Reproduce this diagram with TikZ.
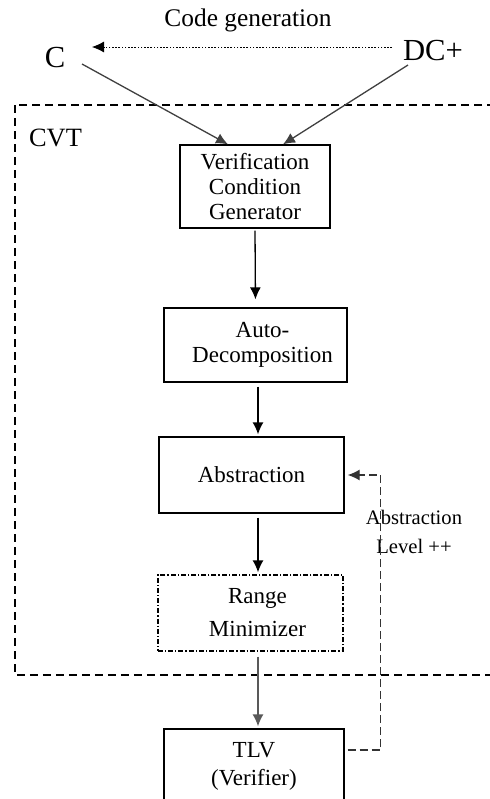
\documentclass[tikz,border=0pt]{standalone}
\usepackage{fontspec}
\setmainfont{Liberation Serif}
\usepackage{tikz}
\usetikzlibrary{arrows.meta}

\begin{document}
\begin{tikzpicture}[x=0.5pt,y=-0.5pt,
box/.style={draw,line width=0.65pt,align=center,inner sep=0pt,font=\fontsize{11.5}{12.5}\selectfont},
flow/.style={-{Latex[length=6pt,width=5.5pt]},line width=0.65pt},
back/.style={-{Latex[length=6pt,width=5.5pt]},line width=0.65pt,dash pattern=on 4pt off 2pt,black!80},
cvt/.style={line width=1pt,dash pattern=on 4pt off 2.5pt},
lbl/.style={inner sep=0pt,align=center}]
\useasboundingbox (0,0) rectangle (490,799);
\draw[cvt](15,105) rectangle (530,675);
\node[lbl,font=\fontsize{13.2}{15}\selectfont] (cvtname) at (55.5,138) {CVT};
\node[lbl,font=\fontsize{12.7}{15}\selectfont] (cg) at (248,20) {Code generation};
\node[lbl,font=\fontsize{15.3}{17}\selectfont] (c) at (55,58) {C};
\node[lbl,font=\fontsize{15.3}{17}\selectfont] (dcp) at (433,51) {DC+};
\node[box,minimum width=75pt,minimum height=41.5pt] (vcg) at (255,186.5) {Verification\\Condition\\Generator};
\node[box,minimum width=91.5pt,minimum height=37pt] (adc) at (255.5,345) {\hspace*{7pt}Auto-\\\hspace*{7pt}Decomposition};
\node[box,minimum width=92.5pt,minimum height=38pt] (abs) at (251.5,475) {Abstraction};
\node[box,minimum width=92.5pt,minimum height=38pt,dash pattern=on 2.5pt off 1pt on 0.6pt off 1pt,
  font=\fontsize{11.5}{16.5}\selectfont] (rng) at (250.5,613) {\hspace*{7pt}Range\\\hspace*{7pt}Minimizer};
\node[box,minimum width=90pt,minimum height=37pt,font=\fontsize{11.5}{14}\selectfont] (tlv) at (254,766) {TLV\\(Verifier)};
\node[lbl,font=\fontsize{10.3}{14.5}\selectfont] (lvl) at (414,532) {Abstraction\\Level ++};
\coordinate (col) at (258,0);
\draw[flow,line width=0.4pt,dash pattern=on 0.8pt off 0.8pt] ([shift={(-41,-4)}]dcp.center) -- ([shift={(37,-11)}]c.center);
\draw[flow,black!75] ([shift={(27,6)}]c.center) -- ([xshift=-13.5pt]vcg.north);
\draw[flow,black!75] ([shift={(-25,14)}]dcp.center) -- ([xshift=14pt]vcg.north);
\draw[flow,shorten <=1pt,shorten >=4pt] (vcg.south) -- (adc.north);
\draw[flow,shorten <=2pt,shorten >=1pt] (adc.south -| col) -- (abs.north -| col);
\draw[flow,shorten <=2pt,shorten >=1pt] (abs.south -| col) -- (rng.north -| col);
\draw[flow,black!65,shorten <=2.5pt,shorten >=1pt] (rng.south -| col) -- (tlv.north -| col);
\draw[back,shorten <=1.5pt,shorten >=1.5pt] ([yshift=8pt]tlv.east) -| ([xshift=18pt]abs.east) -- (abs.east);
\end{tikzpicture}
\end{document}
